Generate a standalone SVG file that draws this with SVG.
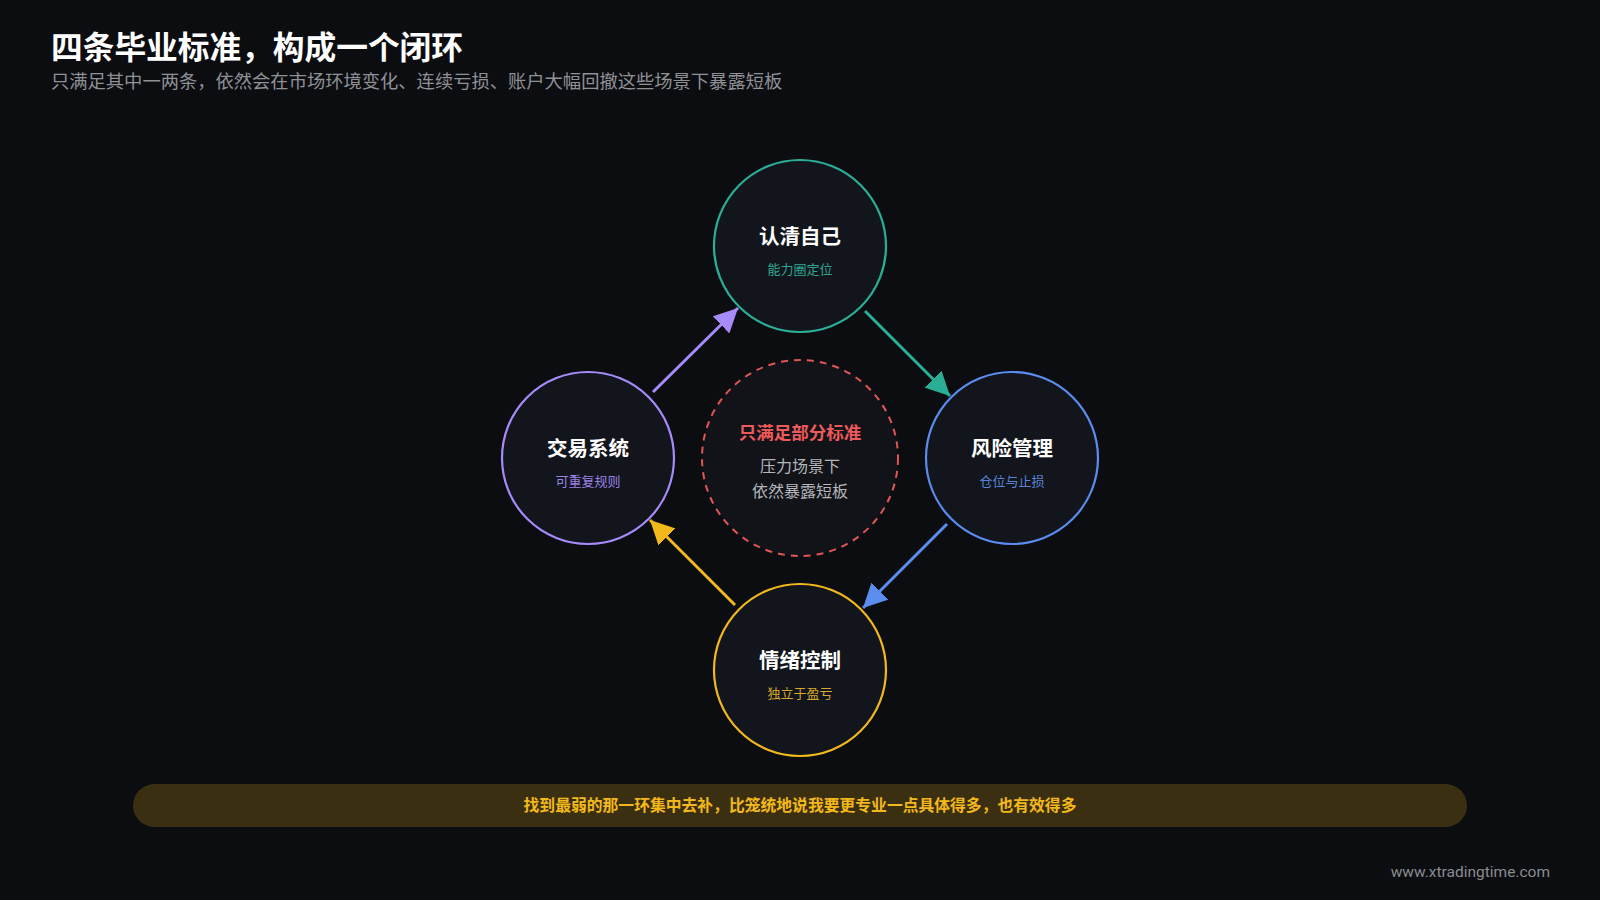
<svg xmlns="http://www.w3.org/2000/svg" width="1600" height="900" viewBox="0 0 1600 900">
<style>
.cjk{font-family:"Noto Sans CJK SC","Noto Sans",sans-serif}
.title{font-size:31.7px;font-weight:700;fill:#ffffff}
.sub{font-size:18.3px;fill:#8f9196}
.node{stroke-width:2.2}
.nt{font-size:20.5px;font-weight:700;fill:#ffffff;text-anchor:middle}
.ns{font-size:13px;text-anchor:middle}
.conn{stroke-width:3;fill:none}
</style>
<defs>
<marker id="ap" viewBox="0 0 10 10" refX="10" refY="5" markerWidth="24" markerHeight="24" markerUnits="userSpaceOnUse" orient="auto"><path d="M0,0 L10,5 L0,10 z" fill="#a78bfa"/></marker>
<marker id="at" viewBox="0 0 10 10" refX="10" refY="5" markerWidth="24" markerHeight="24" markerUnits="userSpaceOnUse" orient="auto"><path d="M0,0 L10,5 L0,10 z" fill="#2bae96"/></marker>
<marker id="ab" viewBox="0 0 10 10" refX="10" refY="5" markerWidth="24" markerHeight="24" markerUnits="userSpaceOnUse" orient="auto"><path d="M0,0 L10,5 L0,10 z" fill="#5b8def"/></marker>
<marker id="ay" viewBox="0 0 10 10" refX="10" refY="5" markerWidth="24" markerHeight="24" markerUnits="userSpaceOnUse" orient="auto"><path d="M0,0 L10,5 L0,10 z" fill="#f2b81c"/></marker>
</defs>
<rect width="1600" height="900" fill="#0c0d11"/>
<text class="cjk title" x="51" y="59">四条毕业标准，构成一个闭环</text>
<text class="cjk sub" x="51" y="88">只满足其中一两条，依然会在市场环境变化、连续亏损、账户大幅回撤这些场景下暴露短板</text>

<g id="connectors">
<line class="conn" x1="653" y1="392" x2="738" y2="308" stroke="#a78bfa" marker-end="url(#ap)"/>
<line class="conn" x1="865" y1="311" x2="950" y2="396" stroke="#2bae96" marker-end="url(#at)"/>
<line class="conn" x1="947" y1="524" x2="863" y2="608" stroke="#5b8def" marker-end="url(#ab)"/>
<line class="conn" x1="735" y1="605" x2="650" y2="520" stroke="#f2b81c" marker-end="url(#ay)"/>
</g>

<g id="center">
<circle cx="800" cy="458" r="98" fill="#111319" stroke="#e05555" stroke-width="2" stroke-dasharray="7 6"/>
<text class="cjk" x="800" y="439" text-anchor="middle" font-size="17.5" font-weight="700" fill="#ee5a5a">只满足部分标准</text>
<text class="cjk" x="800" y="472" text-anchor="middle" font-size="16" fill="#b4b6ba">压力场景下</text>
<text class="cjk" x="800" y="497" text-anchor="middle" font-size="16" fill="#b4b6ba">依然暴露短板</text>
</g>

<g id="node-top">
<circle class="node" cx="800" cy="246" r="86" fill="#12151c" stroke="#2bae96"/>
<text class="cjk nt" x="800" y="244">认清自己</text>
<text class="cjk ns" x="800" y="274" fill="#2fa58f">能力圈定位</text>
</g>
<g id="node-right">
<circle class="node" cx="1012" cy="458" r="86" fill="#12151c" stroke="#5b8def"/>
<text class="cjk nt" x="1012" y="456">风险管理</text>
<text class="cjk ns" x="1012" y="486" fill="#5b84d6">仓位与止损</text>
</g>
<g id="node-bottom">
<circle class="node" cx="800" cy="670" r="86" fill="#12151c" stroke="#f2b81c"/>
<text class="cjk nt" x="800" y="668">情绪控制</text>
<text class="cjk ns" x="800" y="698" fill="#d9a82a">独立于盈亏</text>
</g>
<g id="node-left">
<circle class="node" cx="588" cy="458" r="86" fill="#12151c" stroke="#a78bfa"/>
<text class="cjk nt" x="588" y="456">交易系统</text>
<text class="cjk ns" x="588" y="486" fill="#9b82e6">可重复规则</text>
</g>

<g id="banner">
<rect x="133" y="784" width="1334" height="43" rx="21.5" fill="#3a2f10"/>
<text class="cjk" x="800" y="811" text-anchor="middle" font-size="15.8" font-weight="700" fill="#f2b81c">找到最弱的那一环集中去补，比笼统地说我要更专业一点具体得多，也有效得多</text>
</g>
<text x="1550" y="877" text-anchor="end" font-family="Roboto,'Liberation Sans',sans-serif" font-size="15.5" fill="#8a8c90">www.xtradingtime.com</text>
</svg>
